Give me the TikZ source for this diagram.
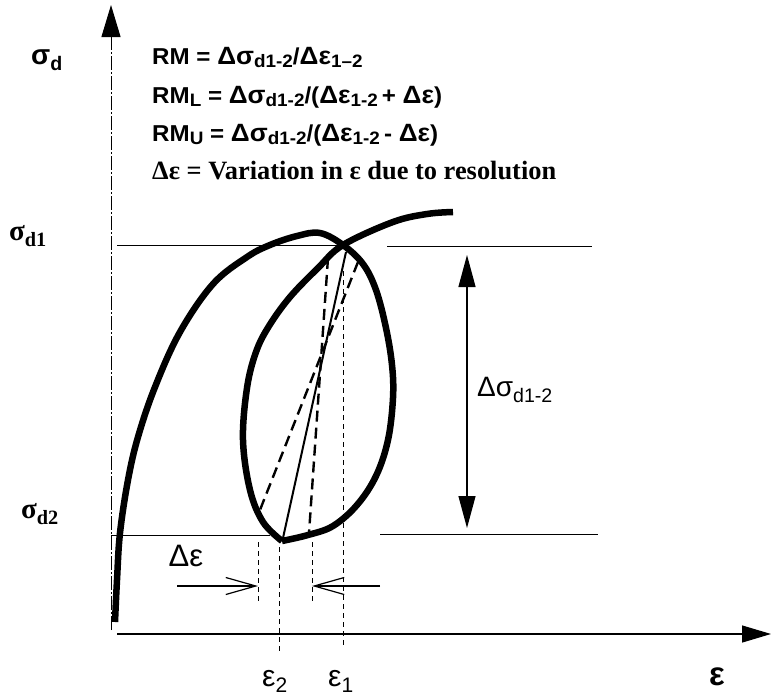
\documentclass[tikz,border=0pt]{standalone}
\usepackage{fontspec}
\setmainfont{Liberation Serif}
\setsansfont{Liberation Sans}
\usetikzlibrary{arrows.meta}
\newcommand\sbs[1]{\raisebox{-0.28ex}{\fontsize{18}{18}\selectfont #1}}
\newcommand\gk[1]{{\fontsize{25}{25}\selectfont #1}}
\begin{document}
\begin{tikzpicture}[x=1pt,y=-1pt,
  bigcurve/.style={line width=6.5pt},
  guide/.style={line width=1pt},
  proj/.style={line width=1pt, dash pattern=on 5pt off 4pt},
  chorddash/.style={line width=2.4pt, dash pattern=on 11pt off 6pt},
  chord/.style={line width=2pt},
  eqline/.style={anchor=base west, inner sep=0pt, font=\sffamily\bfseries\fontsize{23}{26}\selectfont},
  serifline/.style={anchor=base west, inner sep=0pt, font=\rmfamily\bfseries\fontsize{26.4}{28}\selectfont},
  axlabel/.style={inner sep=0pt, font=\sffamily\bfseries\fontsize{28}{30}\selectfont},
  levlabel/.style={inner sep=0pt, font=\rmfamily\bfseries\fontsize{29}{30}\selectfont},
  smalllabel/.style={inner sep=0pt, font=\sffamily\fontsize{28}{30}\selectfont},
  epslabel/.style={inner sep=0pt, font=\sffamily\fontsize{30}{32}\selectfont},
  barb/.style={-{Straight Barb[length=30pt,width=17pt]}, line width=1.2pt}
]
\fill[white] (0,0) rectangle (771,696);
\useasboundingbox (0,0) rectangle (771,696);

% axes
\coordinate (ybot) at (111,630);
\coordinate (ytop) at (111,5);
\coordinate (xleft) at (117,634);
\coordinate (xright) at (771,634);
\draw[line width=1pt, dash pattern=on 14pt off 2pt on 2pt off 2pt, -{Triangle[length=32pt,width=19pt]}] (ybot) -- (ytop);
\draw[line width=1.2pt, -{Triangle[length=29pt,width=17pt]}] (xleft) -- (xright);

% level lines
\coordinate (s1a) at (117,245); \coordinate (s1b) at (337,245);
\coordinate (s1c) at (387,246); \coordinate (s1d) at (592,246);
\coordinate (s2a) at (111,535); \coordinate (s2b) at (270,535);
\coordinate (s2c) at (380,534); \coordinate (s2d) at (598,534);
\draw[guide] (s1a) -- (s1b);
\draw[guide] (s1c) -- (s1d);
\draw[guide] (s2a) -- (s2b);
\draw[guide] (s2c) -- (s2d);

% delta sigma arrow
\coordinate (dsTop) at (467,255);
\coordinate (dsBot) at (467,528);
\draw[line width=1.2pt, {Triangle[length=32pt,width=17pt]}-{Triangle[length=32pt,width=17pt]}] (dsTop) -- (dsBot);

% projection lines
\coordinate (e1t) at (343,262); \coordinate (e1b) at (343,645);
\coordinate (e2t) at (279,547); \coordinate (e2b) at (279,652);
\coordinate (d1t) at (258,542); \coordinate (d1b) at (258,602);
\coordinate (d2t) at (312,542); \coordinate (d2b) at (312,603);
\draw[proj] (e1t) -- (e1b);
\draw[proj] (e2t) -- (e2b);
\draw[proj] (d1t) -- (d1b);
\draw[proj] (d2t) -- (d2b);

% delta epsilon arrows
\coordinate (aL) at (177,586); \coordinate (aR) at (380,586);
\coordinate (tL) at (258,586); \coordinate (tR) at (312,586);
\draw[barb] (aL) -- (tL);
\draw[barb] (aR) -- (tR);

% chords
\coordinate (c1t) at (346,252); \coordinate (c1b) at (283,538);
\coordinate (c2t) at (328,258); \coordinate (c2b) at (309,533);
\coordinate (c3t) at (358,262); \coordinate (c3b) at (258,515);
\draw[chord] (c1t) -- (c1b);
\draw[chorddash] (c2t) -- (c2b);
\draw[chorddash] (c3t) -- (c3b);

% main curves
\draw[bigcurve, line cap=butt] plot[smooth, tension=0.6] coordinates {
  (115,622) (117,580) (120,533) (128,480) (138,437) (155,387) (180,332) (213,284) (247,257) (270,245) (297,236) (320,233) (343,245)
  (363,264) (376,290) (386,328) (392,365) (393,398) (388,440) (376,476) (357,505) (333,526) (308,535) (282,541)};
\draw[bigcurve, line cap=butt] plot[smooth, tension=0.6] coordinates {
  (282,541) (263,522) (250,490) (243,440) (247,388) (256,352) (269,326) (290,297) (318,268) (343,245) (393,222) (427,214) (453,212)};

% text
\node[eqline] (l1) at (152,64) {\scalebox{1.05}[1]{RM = \gk{Δσ}\sbs{d1-2}/\gk{Δε}\sbs{1–2}}};
\node[eqline] (l2) at (152,103) {\scalebox{1.05}[1]{RM\sbs{L} = \gk{Δσ}\sbs{d1-2}/(\gk{Δε}\sbs{1-2}\,+ \gk{Δε})}};
\node[eqline] (l3) at (152,141) {\scalebox{1.05}[1]{RM\sbs{U} = \gk{Δσ}\sbs{d1-2}/(\gk{Δε}\sbs{1-2}\,- \gk{Δε})}};
\node[serifline] (l4) at (152,179) {Δε = Variation in ε due to resolution};

\node[axlabel] (sd) at (47,60) {σ\textsubscript{d}};
\node[levlabel] (sd1) at (28,236) {σ\textsubscript{d1}};
\node[levlabel] (sd2) at (40,514) {σ\textsubscript{d2}};
\node[smalllabel] (dsl) at (515,390) {Δσ\textsubscript{d1-2}};
\node[smalllabel, font=\sffamily\fontsize{31}{32}\selectfont] (del) at (186,556) {Δε};
\node[epslabel] (e2l) at (275,681) {ε\textsubscript{2}};
\node[epslabel] (e1l) at (341,681) {ε\textsubscript{1}};
\node[epslabel, font=\sffamily\bfseries\fontsize{33}{34}\selectfont] (el) at (717,677) {ε};
\end{tikzpicture}
\end{document}
